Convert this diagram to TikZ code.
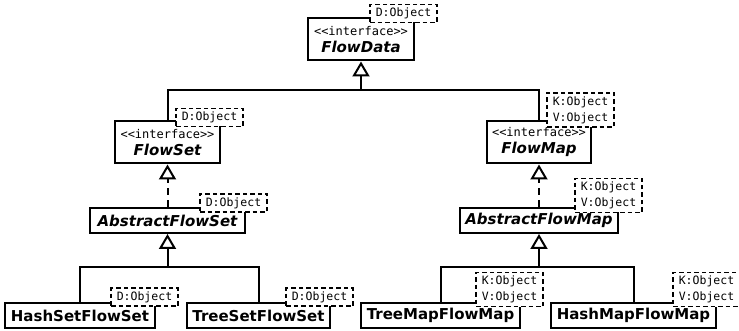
\documentclass[tikz,border=0pt]{standalone}
\usepackage{fontspec}
\setmainfont{DejaVu Sans}
\setmonofont{DejaVu Sans Mono}
\usetikzlibrary{arrows.meta}

\newcommand{\namefont}{\fontsize{15}{17}\selectfont\bfseries}
\newcommand{\tmplfont}{\fontsize{11.5}{16}\selectfont\ttfamily\mdseries\upshape}
\newcommand{\stereo}{{\tmplfont\fontsize{12}{16}\selectfont <<interface>>}\\}

\begin{document}
\begin{tikzpicture}[x=1pt,y=-1pt,
  cls/.style={draw,line width=2pt,fill=white,inner sep=0pt,minimum height=25pt,font=\namefont},
  abs/.style={cls,font=\namefont\itshape},
  intf/.style={abs,minimum height=42pt,align=center},
  tmpl/.style={draw,dash pattern=on 4.5pt off 3pt,line width=1.8pt,fill=white,inner sep=0pt,
    minimum width=67pt,minimum height=18pt,align=left,font=\tmplfont},
  link/.style={line width=2pt},
  inherit/.style={link,-{Triangle[open,length=15pt,width=17pt]}},
  realize/.style={inherit,dash pattern=on 7pt off 5pt}]
  \useasboundingbox (0,0) rectangle (739,331);
  \node[intf,minimum width=106pt] (flowdata) at (361,39.5) {\stereo FlowData};
  \node[intf,minimum width=105pt] (flowset) at (167.5,142.5) {\stereo FlowSet};
  \node[intf,minimum width=104pt] (flowmap) at (539,142.5) {\stereo FlowMap};
  \node[abs,minimum width=155pt] (abstractflowset) at (167.5,220.5) {AbstractFlowSet};
  \node[abs,minimum width=158pt] (abstractflowmap) at (539,220.5) {AbstractFlowMap};
  \node[cls,minimum width=150pt] (hashsetflowset) at (80,315.5) {HashSetFlowSet};
  \node[cls,minimum width=143pt] (treesetflowset) at (258.5,315.5) {TreeSetFlowSet};
  \node[cls,minimum width=159pt] (treemapflowmap) at (440.5,315.5) {TreeMapFlowMap};
  \node[cls,minimum width=165pt] (hashmapflowmap) at (633.5,315.5) {HashMapFlowMap};
  \coordinate (dataj) at (361,90);
  \coordinate (setj) at (167.5,267);
  \coordinate (mapj) at (539,267);
  \draw[link] (flowset.north) |- (dataj) -| (flowmap.north);
  \draw[inherit] (dataj) -- (flowdata.south);
  \draw[realize] (abstractflowset.north) -- (flowset.south);
  \draw[realize] (abstractflowmap.north) -- (flowmap.south);
  \draw[link] (hashsetflowset.north) |- (setj) -| (treesetflowset.north);
  \draw[inherit] (setj) -- (abstractflowset.south);
  \draw[link] (treemapflowmap.north) |- (mapj) -| (hashmapflowmap.north);
  \draw[inherit] (mapj) -- (abstractflowmap.south);
  \node[tmpl] (flowdatatmpl) at (403.5,13.5) {D:Object};
  \node[tmpl] (flowsettmpl) at (209.5,117.5) {D:Object};
  \node[tmpl,minimum height=34pt] (flowmaptmpl) at (580.5,110) {K:Object\\V:Object};
  \node[tmpl] (abstractflowsettmpl) at (233.5,203) {D:Object};
  \node[tmpl,minimum height=34pt] (abstractflowmaptmpl) at (608.5,195.5) {K:Object\\V:Object};
  \node[tmpl] (hashsetflowsettmpl) at (144.5,297) {D:Object};
  \node[tmpl] (treesetflowsettmpl) at (319.5,297) {D:Object};
  \node[tmpl,minimum height=34pt] (treemapflowmaptmpl) at (509.5,289.5) {K:Object\\V:Object};
  \node[tmpl,minimum height=34pt] (hashmapflowmaptmpl) at (706.5,289.5) {K:Object\\V:Object};
\end{tikzpicture}
\end{document}
